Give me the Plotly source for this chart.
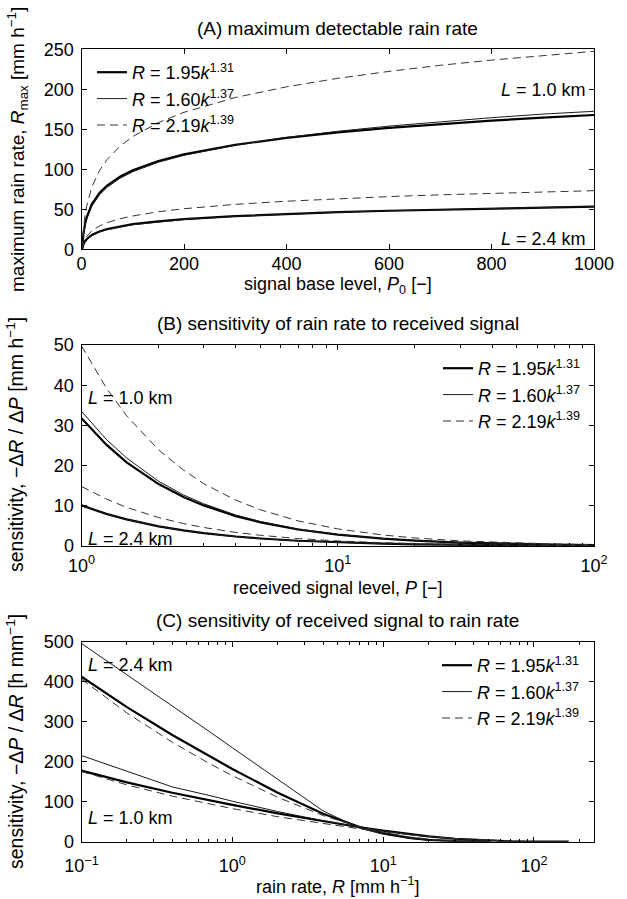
import plotly.graph_objects as go

# ---------------- data ----------------
# Panel A: maximum detectable rain rate vs signal base level P0
P0_A = [1, 2, 4, 7, 10, 20, 35, 50, 75, 100, 150, 200, 300, 400, 500, 600, 700, 800, 900, 1000]
A_L1_thick = [0, 8.3, 20.5, 31.9, 39.8, 56.2, 70.3, 79.7, 90.7, 98.7, 110.3, 118.6, 130.6, 139.3, 146.2, 151.8, 156.6, 160.8, 164.5, 167.9]
A_L1_thin = [0, 7.2, 18.7, 29.8, 37.5, 53.8, 68.0, 77.5, 88.7, 96.9, 108.8, 117.5, 130.3, 139.8, 147.5, 154.0, 159.5, 164.5, 169.0, 172.5]
A_L1_dash = [0, 10.1, 26.6, 42.5, 53.8, 77.5, 98.4, 112.3, 128.8, 140.9, 158.4, 171.2, 189.7, 203.1, 213.7, 222.4, 230.0, 236.5, 242.3, 247.5]
A_L24_thick = [0, 2.6, 6.5, 10.1, 12.6, 17.9, 22.3, 25.3, 28.8, 31.4, 35.0, 37.7, 41.5, 44.2, 46.4, 48.2, 49.7, 51.1, 52.2, 53.3]
A_L24_thin = [0, 2.3, 5.9, 9.4, 11.9, 17.0, 21.5, 24.5, 28.1, 30.7, 34.4, 37.2, 41.1, 44.0, 46.3, 48.1, 49.7, 51.1, 52.3, 53.5]
A_L24_dash = [0, 3.0, 7.9, 12.6, 15.9, 23.0, 29.1, 33.3, 38.1, 41.7, 46.9, 50.7, 56.2, 60.1, 63.3, 65.9, 68.1, 70.0, 71.8, 73.3]

# Panel B: sensitivity of rain rate to received signal
P_B = [1, 1.25, 1.5, 2, 2.5, 3, 4, 5, 7, 10, 15, 20, 30, 50, 70, 100]
B_L1_thick = [31.8, 25.2, 20.8, 15.4, 12.2, 10.1, 7.43, 5.87, 4.10, 2.81, 1.82, 1.34, 0.86, 0.49, 0.34, 0.23]
B_L1_thin = [33.5, 26.5, 21.9, 16.1, 12.7, 10.5, 7.71, 6.08, 4.24, 2.88, 1.86, 1.36, 0.87, 0.49, 0.34, 0.22]
B_L1_dash = [49.8, 39.3, 32.4, 23.9, 18.9, 15.5, 11.4, 8.98, 6.25, 4.25, 2.74, 2.00, 1.27, 0.72, 0.49, 0.33]
B_L24_thick = [10.1, 8.0, 6.62, 4.89, 3.87, 3.20, 2.36, 1.86, 1.30, 0.89, 0.58, 0.42, 0.27, 0.16, 0.11, 0.07]
B_L24_thin = [10.1, 8.0, 6.59, 4.86, 3.83, 3.16, 2.32, 1.83, 1.28, 0.87, 0.56, 0.41, 0.26, 0.15, 0.10, 0.07]
B_L24_dash = [14.8, 11.7, 9.60, 7.08, 5.58, 4.60, 3.38, 2.66, 1.85, 1.26, 0.81, 0.59, 0.38, 0.21, 0.15, 0.10]

# Panel C: sensitivity of received signal to rain rate
R_C = [0.1, 0.2, 0.4, 0.7, 1, 2, 4, 7, 10, 15, 20, 30, 50, 70, 100, 170]
C_L1_thick = [177.8, 148.4, 122.4, 103.4, 91.9, 70.9, 51.1, 36.2, 27.5, 18.7, 13.3, 7.4, 2.7, 1.1, 0.34, 0.03]
C_L1_thin = [215.4, 177.0, 137.0, 115.8, 101.3, 75.4, 52.3, 35.9, 26.6, 17.6, 12.4, 6.7, 2.4, 1.0, 0.31, 0.03]
C_L1_dash = [175.4, 142.1, 113.9, 94.1, 82.7, 62.5, 44.8, 32.1, 24.9, 17.6, 13.1, 8.0, 3.5, 1.8, 0.71, 0.12]
C_L24_thick = [412.6, 336.5, 266.9, 214.1, 181.8, 122.4, 70.1, 36.9, 21.4, 9.7, 4.8, 1.3, 0.14, None, None, None]
C_L24_thin = [495.5, 418.0, 339.0, 276.0, 235.0, 156.0, 77.0, 33.4, 18.7, 8.1, 3.9, 1.0, 0.11, None, None, None]
C_L24_dash = [406.5, 321.9, 248.6, 196.0, 165.2, 111.0, 65.4, 36.6, 22.8, 11.7, 6.5, 2.3, 0.40, 0.09, None, None]

SERIES_NAMES = ["<i>R</i> = 1.95<i>k</i><sup>1.31</sup>",
                "<i>R</i> = 1.60<i>k</i><sup>1.37</sup>",
                "<i>R</i> = 2.19<i>k</i><sup>1.39</sup>"]

# ---------------- styling ----------------
W, H = 627, 899
FONT = "Liberation Sans, Arial, Helvetica, sans-serif"
STYLES = [dict(color="black", width=2.2),
          dict(color="#1a1a1a", width=1),
          dict(color="#333333", width=1, dash="8px,5px")]


def PX(x):
    return x / W


def PY(y):
    return 1 - y / H


XL, XR = 81.5, 594
PANELS = {"A": (49.3, 249.3), "B": (345, 546), "C": (641.7, 841.7)}

fig = go.Figure()

panel_data = [
    ("", "legend", P0_A, [(A_L1_thick, A_L24_thick), (A_L1_thin, A_L24_thin), (A_L1_dash, A_L24_dash)]),
    ("2", "legend2", P_B, [(B_L1_thick, B_L24_thick), (B_L1_thin, B_L24_thin), (B_L1_dash, B_L24_dash)]),
    ("3", "legend3", R_C, [(C_L1_thick, C_L24_thick), (C_L1_thin, C_L24_thin), (C_L1_dash, C_L24_dash)]),
]

for suffix, leg, xs, series in panel_data:
    for i, (l1, l24) in enumerate(series):
        grp = leg + str(i)
        for j, ys in enumerate((l1, l24)):
            fig.add_trace(go.Scatter(
                x=xs, y=ys, mode="lines", line=STYLES[i],
                name=SERIES_NAMES[i], legend=leg, legendgroup=grp,
                showlegend=(j == 0), connectgaps=False,
                xaxis="x" + suffix, yaxis="y" + suffix, hoverinfo="skip"))

axis_common = dict(showline=True, linecolor="black", linewidth=1, mirror="ticks",
                   ticks="inside", ticklen=5, tickcolor="black", tickwidth=1,
                   showgrid=False, zeroline=False, automargin=False,
                   tickfont=dict(size=18, color="black", family=FONT))

xdom = [PX(XL), PX(XR)]


def ydom(p):
    top, bot = PANELS[p]
    return [PY(bot), PY(top)]


minor_B = [m * 10 ** e for e in range(0, 2) for m in range(2, 10)]
minor_C = [m * 10 ** e for e in range(-1, 3) for m in range(2, 10)]

fig.update_layout(
    width=W, height=H, margin=dict(l=0, r=0, t=0, b=0),
    paper_bgcolor="white", plot_bgcolor="white",
    font=dict(family=FONT, size=18, color="black"),
    xaxis=dict(axis_common, domain=xdom, anchor="y", range=[0, 1000], tick0=0, dtick=200,
               ticklabelstandoff=-2),
    yaxis=dict(axis_common, domain=ydom("A"), anchor="x", range=[0, 250], tick0=0, dtick=50,
               ticklabelstandoff=3),
    xaxis2=dict(axis_common, domain=xdom, anchor="y2", type="log", range=[0, 2],
                tickmode="array", tickvals=[1, 10, 100],
                ticktext=["10<sup>0</sup>", "10<sup>1</sup>", "10<sup>2</sup>"],
                minor=dict(tickmode="array", tickvals=minor_B, ticks="inside", ticklen=3,
                           tickcolor="black", showgrid=False),
                ticklabelstandoff=3),
    yaxis2=dict(axis_common, domain=ydom("B"), anchor="x2", range=[0, 50], tick0=0, dtick=10,
                ticklabelstandoff=3),
    xaxis3=dict(axis_common, domain=xdom, anchor="y3", type="log", range=[-1, 2.398],
                tickmode="array", tickvals=[0.1, 1, 10, 100],
                ticktext=["10<sup>−1</sup>", "10<sup>0</sup>", "10<sup>1</sup>", "10<sup>2</sup>"],
                minor=dict(tickmode="array", tickvals=minor_C, ticks="inside", ticklen=3,
                           tickcolor="black", showgrid=False),
                ticklabelstandoff=8),
    yaxis3=dict(axis_common, domain=ydom("C"), anchor="x3", range=[0, 500], tick0=0, dtick=100,
                ticklabelstandoff=3),
    showlegend=True,
)

legend_common = dict(xanchor="left", yanchor="top", bgcolor="rgba(0,0,0,0)", borderwidth=0,
                     font=dict(size=18, family=FONT, color="black"), traceorder="grouped",
                     tracegroupgap=0, itemclick=False, itemdoubleclick=False)
fig.update_layout(
    legend=dict(legend_common, x=PX(92), y=PY(54)),
    legend2=dict(legend_common, x=PX(438), y=PY(350)),
    legend3=dict(legend_common, x=PX(437), y=PY(647)),
)

cx = (XL + XR) / 2
ann = []


def add_text(text, x, y, xanchor="center", yanchor="middle", angle=0, size=18):
    ann.append(dict(text=text, x=PX(x), y=PY(y), xref="paper", yref="paper",
                    xanchor=xanchor, yanchor=yanchor, textangle=angle, showarrow=False,
                    font=dict(size=size, family=FONT, color="black")))


# panel titles
add_text("(A) maximum detectable rain rate", cx, 28.5, size=19)
add_text("(B) sensitivity of rain rate to received signal", cx, 323, size=19)
add_text("(C) sensitivity of received signal to rain rate", cx, 620, size=19)

# axis titles
add_text("signal base level, <i>P</i><sub>0</sub> [−]", cx, 285)
add_text("received signal level, <i>P</i> [−]", cx, 588)
add_text("rain rate, <i>R</i> [mm h<sup>−1</sup>]", cx, 885)
add_text("maximum rain rate, <i>R</i><sub>max</sub> [mm h<sup>−1</sup>]", 17, 150, angle=-90, size=19)
add_text("sensitivity, −Δ<i>R</i> / Δ<i>P</i> [mm h<sup>−1</sup>]", 15, 445, angle=-90, size=19.5)
add_text("sensitivity, −Δ<i>P</i> / Δ<i>R</i> [h mm<sup>−1</sup>]", 15, 742, angle=-90, size=19.5)

# path-length labels
add_text("<i>L</i> = 1.0 km", 588, 90, xanchor="right")
add_text("<i>L</i> = 2.4 km", 588, 239, xanchor="right")
add_text("<i>L</i> = 1.0 km", 86, 398, xanchor="left")
add_text("<i>L</i> = 2.4 km", 86, 539, xanchor="left")
add_text("<i>L</i> = 2.4 km", 86, 665, xanchor="left")
add_text("<i>L</i> = 1.0 km", 86, 818, xanchor="left")

fig.update_layout(annotations=ann)

fig.write_html("out.html")
